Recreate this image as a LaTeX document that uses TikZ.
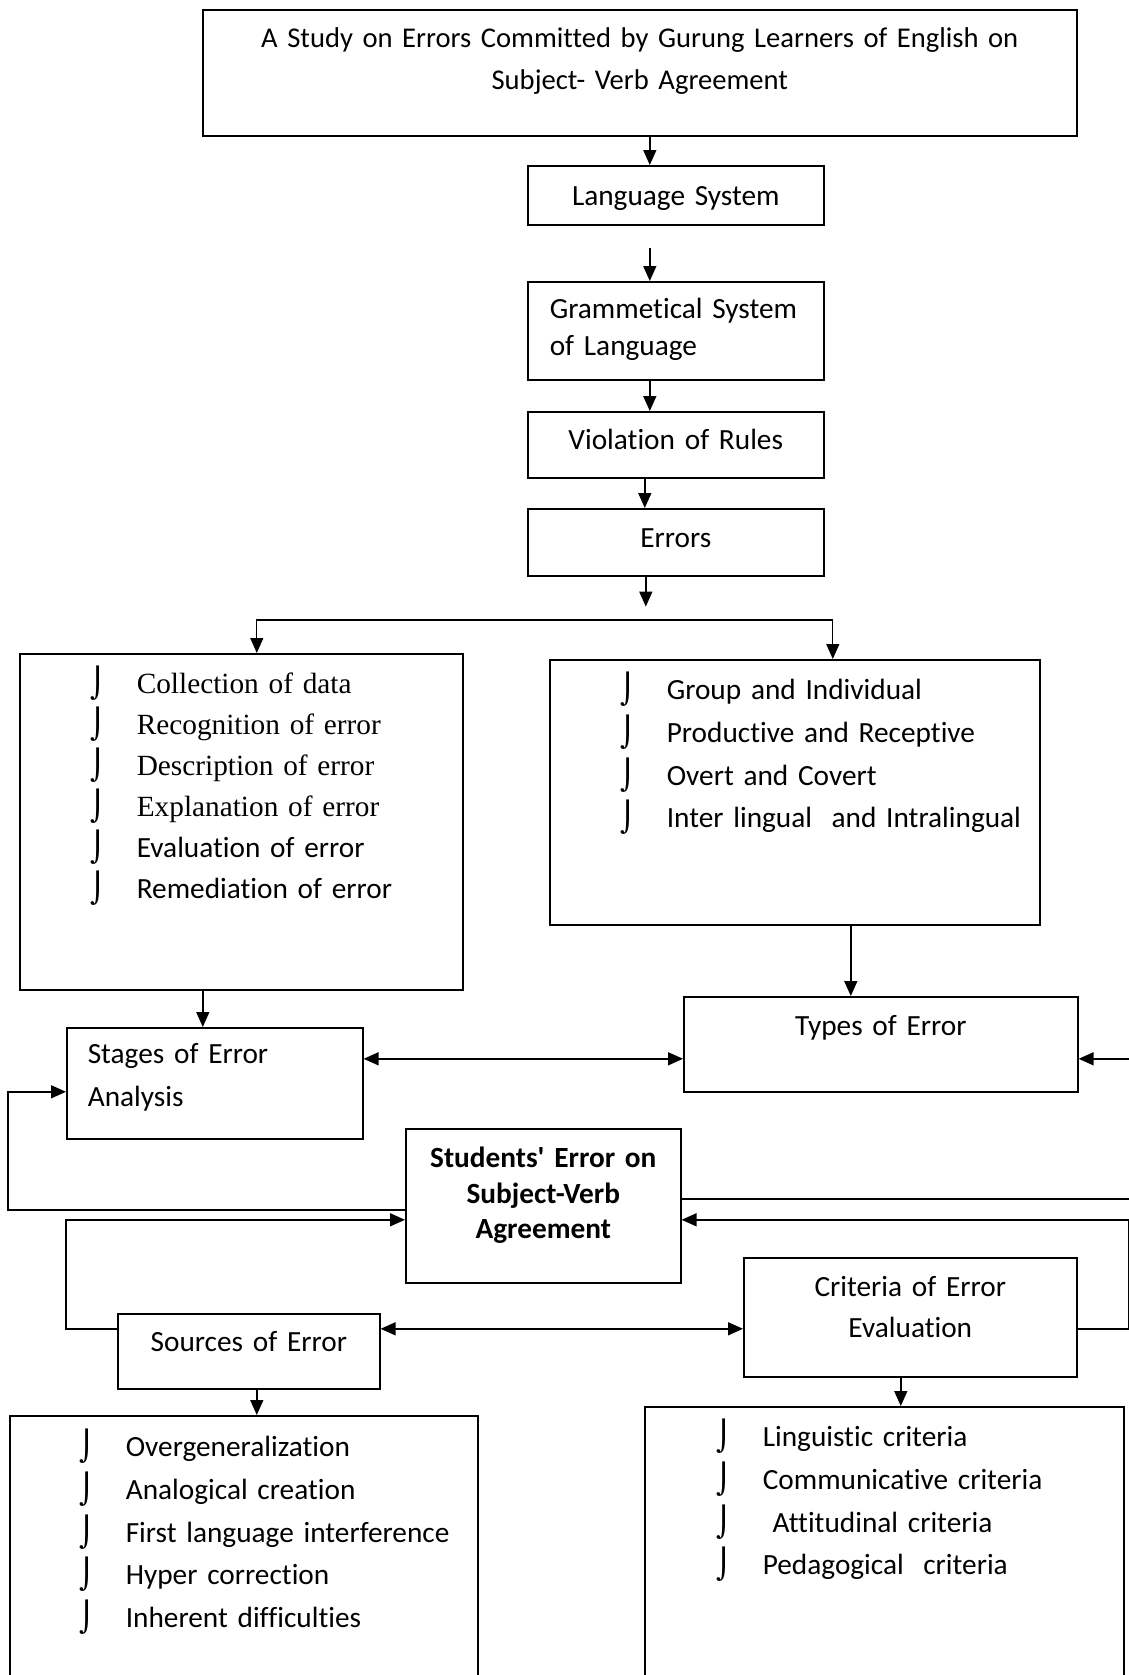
\documentclass[tikz,border=0pt]{standalone}
\usepackage{fontspec}
\setmainfont{Carlito}[Ligatures=NoCommon]
\newfontfamily\timesfont{Liberation Serif}
\newfontfamily\symfont{DejaVu Sans}
\usetikzlibrary{arrows.meta}
\newcommand\itemmark{{\symfont ⌡}}
\newcommand\litem[1]{\makebox[46pt][l]{\itemmark}{#1}}

\begin{document}
\begin{tikzpicture}[
  x=1pt,y=-1pt,
  every node/.style={font=\fontsize{29.3pt}{41pt}\selectfont},
  leading/.style={font=\fontsize{29.3pt}{#1}\selectfont},
  box/.style={draw,line width=1.6pt,anchor=north west,inner sep=0pt,align=center},
  lpad/.style={align=left,execute at begin node={\leftskip=#1\relax}},
  arr/.style={-{Triangle[length=15pt,width=13pt]},line width=1.5pt},
  dbl/.style={{Triangle[length=15pt,width=13pt]}-{Triangle[length=15pt,width=13pt]},line width=1.5pt},
  forkline/.style={{Triangle[length=15pt,width=13pt]}-{Triangle[length=15pt,width=13pt]},line width=1.2pt}
]
  \path[use as bounding box] (0,0) rectangle (1129,1675);
  \clip (0,0) rectangle (1129,1675);

  % main chain
  \node[box,text width=874pt,text height=38pt,text depth=88pt,font=\fontsize{28.6pt}{42pt}\selectfont] (title) at (202,9)
    {A Study on Errors Committed by Gurung Learners of English on\\Subject- Verb Agreement};
  \node[box,text width=296pt,text height=40pt,text depth=19pt] (lang) at (527,165) {Language System};
  \node[box,text width=296pt,text height=37pt,text depth=61pt,leading=37pt,lpad=22pt] (gram) at (527,281)
    {Grammetical System\\of Language};
  \node[box,text width=296pt,text height=38pt,text depth=28pt] (viol) at (527,411) {Violation of Rules};
  \node[box,text width=296pt,text height=39pt,text depth=28pt] (err) at (527,508) {Errors};

  % lists under errors
  \node[box,text width=443pt,text height=40pt,text depth=296pt,lpad=71pt] (stlist) at (19,653)
    {\litem{\timesfont Collection of data}\\\litem{\timesfont Recognition of error}\\
     \litem{\timesfont Description of error}\\\litem{\timesfont Explanation of error}\\
     \litem{Evaluation of error}\\\litem{Remediation of error}};
  \node[box,text width=490pt,text height=40pt,text depth=225pt,leading=42.7pt,lpad=71pt] (tylist) at (549,659)
    {\litem{Group and Individual}\\\litem{Productive and Receptive}\\
     \litem{Overt and Covert}\\\litem{Inter lingual\ \ and Intralingual}};

  % middle boxes
  \node[box,text width=394pt,text height=39pt,text depth=56pt] (types) at (683,996) {Types of Error};
  \node[box,text width=296pt,text height=36pt,text depth=75pt,leading=43pt,lpad=21pt] (stages) at (66,1027)
    {Stages of Error\\Analysis};
  \node[box,text width=275pt,text height=39pt,text depth=115pt,font=\fontsize{29.3pt}{35.5pt}\selectfont\bfseries] (student) at (405,1128)
    {Students\textquotesingle{} Error on\\Subject-Verb\\Agreement};
  \node[box,text width=333pt,text height=39pt,text depth=80pt] (crit) at (743,1257) {Criteria of Error\\Evaluation};
  \node[box,text width=262pt,text height=38pt,text depth=37pt] (sources) at (117,1313) {Sources of Error};

  % bottom lists
  \node[box,text width=468pt,text height=41pt,text depth=259pt,leading=42.7pt,lpad=70pt] (srclist) at (9,1415)
    {\litem{Overgeneralization}\\\litem{Analogical creation}\\\litem{First language interference}\\
     \litem{Hyper correction}\\\litem{Inherent difficulties}};
  \node[box,text width=479pt,text height=40pt,text depth=269pt,leading=42.7pt,lpad=72pt] (critlist) at (644,1406)
    {\litem{Linguistic criteria}\\\litem{Communicative criteria}\\\litem{\ Attitudinal criteria}\\
     \litem{Pedagogical\ \ criteria}};

  % connectors
  \draw[arr] ([xshift=-26pt]lang.north |- title.south) -- ([xshift=-26pt]lang.north);
  \draw[arr] ([xshift=-26pt,yshift=33pt]gram.north) -- ([xshift=-26pt]gram.north);
  \draw[arr] ([xshift=-26pt]gram.south) -- ([xshift=-26pt]viol.north);
  \draw[arr] ([xshift=-31pt]viol.south) -- ([xshift=-31pt]err.north);
  \draw[arr] ([xshift=-30pt]err.south) -- ++(0,30);
  \draw[forkline] ([xshift=15.5pt]stlist.north) -- ++(0,-33) -| ([xshift=38pt]tylist.north);
  \draw[arr] ([xshift=-12pt]stages.north |- stlist.south) -- ([xshift=-12pt]stages.north);
  \draw[arr] ([xshift=-30pt]types.north |- tylist.south) -- ([xshift=-30pt]types.north);
  \draw[dbl] ([yshift=24.5pt]stages.east) -- ([yshift=24.5pt]stages.east -| types.west);
  \draw[arr] ([yshift=-4pt]student.west) -- ++(-397,0) |- ([yshift=-8.5pt]stages.west);
  \draw[arr] ([yshift=22.5pt]sources.west) -- ++(-51,0) |- ([yshift=-14pt]student.west);
  \draw[dbl] ([yshift=22.5pt]sources.east) -- ([yshift=22.5pt]sources.east -| crit.west);
  \draw[arr] ([yshift=-11.5pt]crit.east) -- ++(51,0) |- ([yshift=-14pt]student.east);
  \draw[arr] ([yshift=7pt]student.east) -- ++(462,0) |- ([yshift=-14.5pt]types.east);
  \draw[arr] ([xshift=8pt]sources.south) -- ([xshift=8pt]sources.south |- srclist.north);
  \draw[arr] ([xshift=-9.5pt]crit.south) -- ([xshift=-9.5pt]crit.south |- critlist.north);
\end{tikzpicture}
\end{document}
